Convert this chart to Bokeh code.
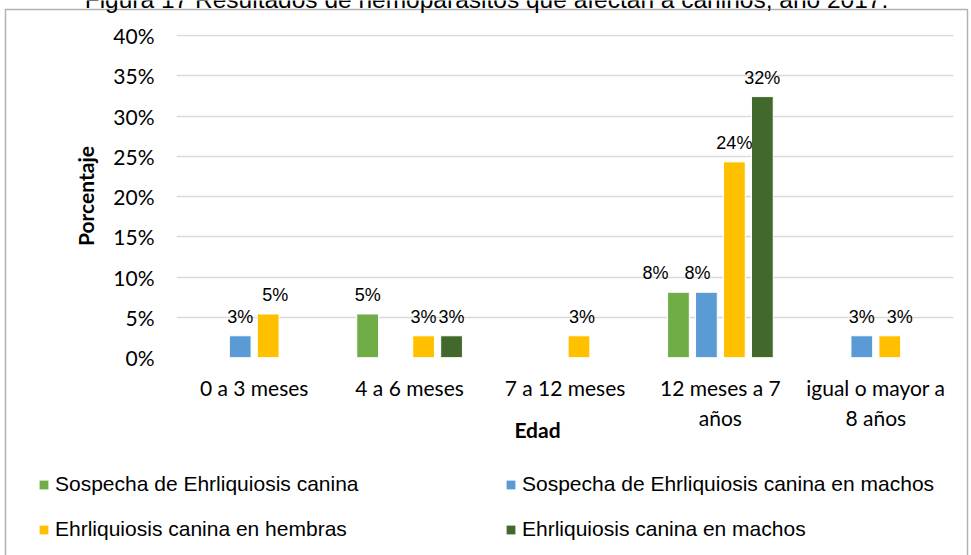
from bokeh.plotting import figure
from bokeh.models import (FactorRange, Range1d, ColumnDataSource, LabelSet, Label,
                          Legend, LegendItem, BoxAnnotation, FixedTicker)
from bokeh.transform import dodge
from bokeh.core.properties import value
from bokeh.embed import file_html
from bokeh.resources import INLINE

# ---------------- data ----------------
title = "Figura 17 Resultados de hemoparásitos que afectan a caninos, año 2017."
categories = ["0 a 3 meses", "4 a 6 meses", "7 a 12 meses",
              "12 meses a 7\naños", "igual o mayor a\n8 años"]
series_names = ["Sospecha de Ehrliquiosis canina",
                "Sospecha de Ehrliquiosis canina en machos",
                "Ehrliquiosis canina en hembras",
                "Ehrliquiosis canina en machos"]
sospecha = [0, 5.41, 0, 8.11, 0]
sospecha_machos = [2.70, 0, 0, 8.11, 2.70]
hembras = [5.41, 2.70, 2.70, 24.32, 2.70]
machos = [0, 2.70, 0, 32.43, 0]
y_ticks = [0, 5, 10, 15, 20, 25, 30, 35, 40]
y_tick_labels = ["0%", "5%", "10%", "15%", "20%", "25%", "30%", "35%", "40%"]
x_title = "Edad"
y_title = "Porcentaje"

# ---------------- styles ----------------
colors = ["#70AD47", "#5B9BD5", "#FFC000", "#43682B"]
offsets = [-0.27, -0.09, 0.09, 0.27]
label_dx = [[0, 0, 0, -23, 0], [0, 0, 0, -9, 0], [7, 0, 3, 0, 10], [0, 0, 0, 0, 0]]
all_series = [sospecha, sospecha_machos, hembras, machos]
W, H = 971, 555

# ---------------- main chart ----------------
p = figure(x_range=FactorRange(factors=categories, range_padding=0),
           y_range=Range1d(0, 40.15), width=W, height=H,
           output_backend="svg", toolbar_location=None,
           min_border_left=176, min_border_right=18,
           min_border_top=34, min_border_bottom=198)
p.styles = {"position": "absolute", "top": "0px", "left": "0px"}
p.outline_line_color = None
p.background_fill_color = "white"
p.border_fill_color = "white"

p.xgrid.grid_line_color = None
p.ygrid.grid_line_color = "#D9D9D9"
p.ygrid.grid_line_width = 1.3

p.yaxis.ticker = FixedTicker(ticks=y_ticks)
p.yaxis.major_label_overrides = {t: l for t, l in zip(y_ticks, y_tick_labels)}
for ax in (p.xaxis[0], p.yaxis[0]):
    ax.axis_line_color = None
    ax.major_tick_line_color = None
    ax.minor_tick_line_color = None
    ax.major_tick_out = 0
    ax.major_tick_in = 0
    ax.major_label_text_font = "Lato"
    ax.major_label_text_font_size = "21px"
    ax.major_label_text_color = "black"
p.yaxis.major_label_standoff = 22
p.yaxis.axis_label = y_title
p.yaxis.axis_label_text_font = "Lato"
p.yaxis.axis_label_text_font_style = "bold"
p.yaxis.axis_label_text_font_size = "21px"
p.yaxis.axis_label_text_color = "black"
p.yaxis.axis_label_standoff = 12
p.xaxis.major_label_standoff = 17
p.xaxis.major_label_text_line_height = 1.2

for i, vals in enumerate(all_series):
    keep = [k for k, v in enumerate(vals) if v > 0]
    src = ColumnDataSource(dict(
        cat=[categories[k] for k in keep],
        val=[vals[k] for k in keep],
        lbl=[f"{round(vals[k])}%" for k in keep],
        dx=[label_dx[i][k] for k in keep]))
    p.vbar(x=dodge("cat", offsets[i], range=p.x_range), top="val", width=0.14,
           source=src, fill_color=colors[i], line_color="white", line_width=1)
    p.add_layout(LabelSet(x=dodge("cat", offsets[i], range=p.x_range), y="val",
                          text="lbl", x_offset="dx", y_offset=13, source=src,
                          text_align="center", text_baseline="alphabetic",
                          text_font=value("Liberation Sans"), text_font_size="18px",
                          text_color="black"))

# ---------------- overlay: title, frame, axis title, legend ----------------
q = figure(width=W, height=H, x_range=Range1d(0, W), y_range=Range1d(H, 0),
           x_axis_type=None, y_axis_type=None, min_border=0,
           output_backend="svg", toolbar_location=None)
q.styles = {"position": "absolute", "top": "0px", "left": "0px"}
q.outline_line_color = None
q.background_fill_color = None
q.border_fill_color = None

legend_items = [[], []]
for i in range(4):
    # zero-size swatch renderers, used only by the legend
    r = q.vbar(x=[0], top=[0], bottom=[0], width=0, fill_color=colors[i], line_color=None)
    legend_items[i % 2].append(LegendItem(label=series_names[i], renderers=[r]))

for items, lx in zip(legend_items, [38, 505]):
    q.add_layout(Legend(items=items, location=(lx, 14), orientation="vertical",
                        glyph_width=11, glyph_height=11, label_height=11,
                        label_standoff=6, spacing=21, padding=0, margin=0,
                        border_line_color=None, background_fill_alpha=0,
                        label_text_font="Liberation Sans", label_text_font_size="21px",
                        label_text_color="black"))

q.add_layout(Label(x=537, y=429, text=x_title,
                   text_align="center", text_baseline="middle",
                   text_font="Lato", text_font_style="bold",
                   text_font_size="21px", text_color="black"))
q.add_layout(Label(x=486, y=-1, text=title,
                   text_align="center", text_baseline="alphabetic",
                   text_font="Liberation Sans", text_font_size="24.5px",
                   text_color="black"))
q.add_layout(BoxAnnotation(left=5, right=967, top=9, bottom=H + 100,
                           fill_color=None, line_color="black", line_width=1.5))

open("out.html", "w").write(file_html([p, q], INLINE))
